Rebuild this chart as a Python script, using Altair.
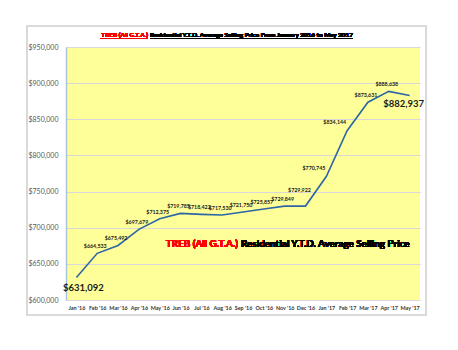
import altair as alt
import pandas as pd

months = ["Jan '16", "Feb '16", "Mar '16", "Apr '16", "May '16", "Jun '16", "Jul '16",
          "Aug '16", "Sep '16", "Oct '16", "Nov '16", "Dec '16", "Jan '17", "Feb '17",
          "Mar '17", "Apr '17", "May '17"]
prices = [631092, 664533, 675492, 697679, 712375, 719785, 718422, 717530, 721750,
          725857, 729849, 729922, 770745, 834144, 873631, 888638, 882937]

df = pd.DataFrame({"month": months, "price": prices})

FONT = "Lato"
W, H = 354, 253

x = alt.X("month:N", sort=months, title=None,
          scale=alt.Scale(type="point", padding=0.5),
          axis=alt.Axis(labelAngle=0, labelFontSize=5.4, labelFontWeight="bold",
                        labelColor="#333333", ticks=False, labelPadding=5,
                        domainColor="#d9d9d9", grid=False))
y = alt.Y("price:Q", title=None,
          scale=alt.Scale(domain=[600000, 950000], nice=False, zero=False),
          axis=alt.Axis(values=[600000, 650000, 700000, 750000, 800000, 850000, 900000, 950000],
                        format="$,.0f", labelFontSize=7, labelColor="#595959",
                        ticks=False, labelPadding=8, domainColor="#A9C4E0",
                        domainWidth=1.5, gridColor="#d9d9d9", gridWidth=1))

base = alt.Chart(df)
txt = alt.Text("price:Q", format="$,.0f")

line = base.mark_line(color="#2E65A5", strokeWidth=1.6).encode(x=x, y=y)

above_months = months[1:11] + ["Mar '17", "Apr '17"]
small = base.transform_filter(alt.FieldOneOfPredicate(field="month", oneOf=above_months)).mark_text(
    font=FONT, fontSize=5.3, fontWeight="bold", color="#1a1a1a", dy=-7, dx=-2
).encode(x=x, y=y, text=txt)

dec_lab = base.transform_filter(alt.FieldEqualPredicate(field="month", equal="Dec '16")).mark_text(
    font=FONT, fontSize=5.3, fontWeight="bold", color="#1a1a1a", dy=-16, dx=-6
).encode(x=x, y=y, text=txt)

left_lab = base.transform_filter(
    alt.FieldOneOfPredicate(field="month", oneOf=["Jan '17", "Feb '17"])).mark_text(
    font=FONT, fontSize=5.3, fontWeight="bold", color="#1a1a1a", dy=-9, dx=-1, align="right"
).encode(x=x, y=y, text=txt)

big_first = base.transform_filter(alt.FieldEqualPredicate(field="month", equal="Jan '16")).mark_text(
    font=FONT, fontSize=9.5, fontWeight="bold", color="#1a1a1a", dy=10, dx=7
).encode(x=x, y=y, text=txt)

big_last = base.transform_filter(alt.FieldEqualPredicate(field="month", equal="May '17")).mark_text(
    font=FONT, fontSize=9.5, fontWeight="bold", color="#1a1a1a", dy=9, dx=-6
).encode(x=x, y=y, text=txt)

frame = alt.Chart(df).mark_rect(fill=None, stroke="#d9d9d9", strokeWidth=1.2).encode(
    x=alt.value(-39), x2=alt.value(360), y=alt.value(-21), y2=alt.value(268))

title_red = alt.Chart(df).mark_text(
    font=FONT, fontSize=6.4, fontWeight="bold", color="#FF0000", align="right", baseline="alphabetic"
).encode(x=alt.value(82), y=alt.value(-10), text=alt.value("TREB (All G.T.A.)"))
title_black = alt.Chart(df).mark_text(
    font=FONT, fontSize=6.4, fontWeight="bold", color="#000000", align="left", baseline="alphabetic"
).encode(x=alt.value(84), y=alt.value(-10),
         text=alt.value("Residential Y.T.D. Average Selling Price From January 2016 to May 2017"))
ul_red = alt.Chart(df).mark_rule(color="#FF0000", strokeWidth=0.7).encode(
    x=alt.value(34), x2=alt.value(82), y=alt.value(-8.5))
ul_black = alt.Chart(df).mark_rule(color="#000000", strokeWidth=0.7).encode(
    x=alt.value(84), x2=alt.value(287), y=alt.value(-8.5))

ann_red = alt.Chart(df).mark_text(
    font=FONT, fontSize=9.9, fontWeight="bold", color="#FF0000", align="right", baseline="middle"
).encode(x=alt.value(172), y=alt.value(197), text=alt.value("TREB (All G.T.A.)"))
ann_black = alt.Chart(df).mark_text(
    font=FONT, fontSize=9.9, fontWeight="bold", color="#000000", align="left", baseline="middle"
).encode(x=alt.value(175), y=alt.value(197),
         text=alt.value("Residential Y.T.D. Average Selling Price"))

chart = alt.layer(
    line, small, dec_lab, left_lab, big_first, big_last, frame,
    title_red, title_black, ul_red, ul_black, ann_red, ann_black
).properties(
    width=W, height=H,
    autosize=alt.AutoSizeParams(type="none"),
    padding={"left": 66, "top": 47, "right": 38, "bottom": 50},
    background="white",
).configure_view(
    fill="#FFFF99", stroke=None
).configure_axis(
    labelFont=FONT
)

chart.save("out.html", embed_options={"renderer": "svg", "actions": False})
